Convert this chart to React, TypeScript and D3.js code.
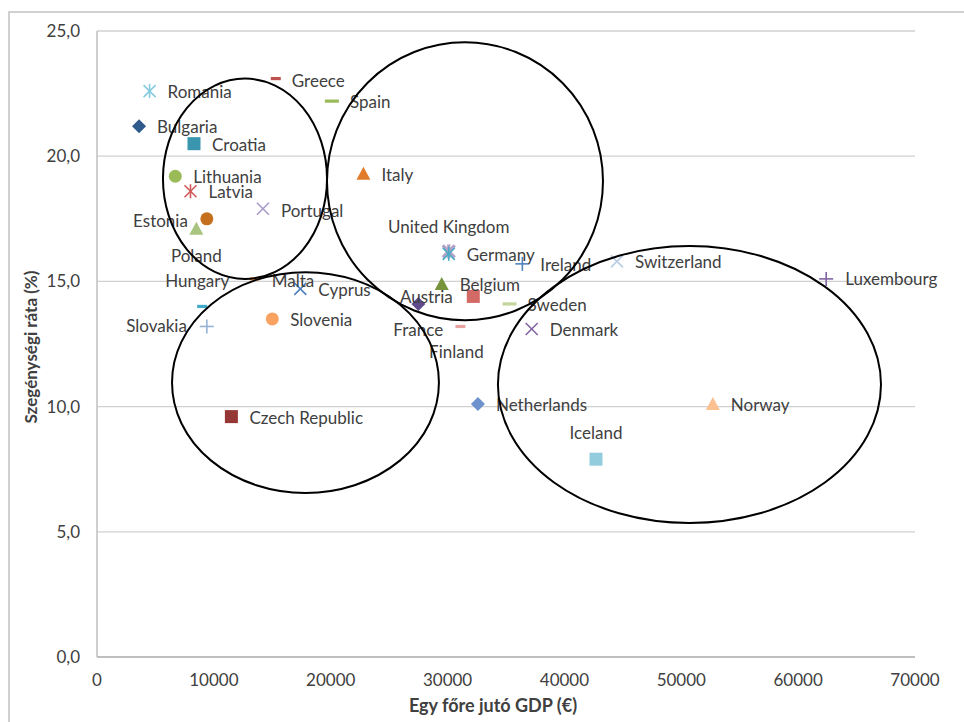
import React, { useEffect, useRef } from 'react';
import * as d3 from 'd3';

// values
const countries = [
  'Romania', 'Greece', 'Spain', 'Bulgaria', 'Croatia', 'Lithuania', 'Italy', 'Latvia',
  'Portugal', 'Estonia', 'Poland', 'United Kingdom', 'Germany', 'Ireland', 'Switzerland',
  'Luxembourg', 'Malta', 'Hungary', 'Cyprus', 'Slovakia', 'Slovenia', 'Czech Republic',
  'Austria', 'Belgium', 'France', 'Sweden', 'Finland', 'Denmark', 'Netherlands', 'Norway', 'Iceland',
];
const gdpPerCapita = [
  4500, 15300, 20100, 3600, 8300, 6700, 22800, 8000,
  14200, 9400, 8500, 30100, 30100, 36400, 44500,
  62400, 13500, 9000, 17400, 9400, 15000, 11500,
  27500, 29500, 32200, 35300, 31100, 37200, 32600, 52700, 42700,
];
const povertyRate = [
  22.6, 23.1, 22.2, 21.2, 20.5, 19.2, 19.3, 18.6,
  17.9, 17.5, 17.1, 16.2, 16.1, 15.7, 15.8,
  15.1, 15.1, 14.0, 14.7, 13.2, 13.5, 9.6,
  14.1, 14.9, 14.4, 14.1, 13.2, 13.1, 10.1, 10.1, 7.9,
];
const xTicks = [0, 10000, 20000, 30000, 40000, 50000, 60000, 70000];
const yTicks = [0, 5, 10, 15, 20, 25];

// hand-drawn groupings, in data units: [cx, cy, rx, ry]
const groupEllipses = [
  [12665, 19.1, 7020, 4.0],
  [31490, 19.0, 11810, 5.55],
  [17840, 10.96, 11420, 4.41],
  [50700, 10.88, 16390, 5.53],
];

type Shape = 'diamond' | 'square' | 'triangle' | 'circle' | 'x' | 'star' | 'plus' | 'dash' | 'longdash';

// marker look per country
const markerStyle: Record<string, [Shape, string]> = {
  Romania: ['star', '#86cbdf'],
  Greece: ['dash', '#c0504d'],
  Spain: ['longdash', '#9bbb59'],
  Bulgaria: ['diamond', '#2f5a8c'],
  Croatia: ['square', '#3a95ae'],
  Lithuania: ['circle', '#9bbb59'],
  Italy: ['triangle', '#e07c2c'],
  Latvia: ['star', '#d05a58'],
  Portugal: ['x', '#a99bc9'],
  Estonia: ['circle', '#c4701f'],
  Poland: ['triangle', '#a9c47f'],
  'United Kingdom': ['star', '#b3a2c7'],
  Germany: ['star', '#4bacc6'],
  Ireland: ['plus', '#4f81bd'],
  Switzerland: ['x', '#b9cde5'],
  Luxembourg: ['plus', '#8064a2'],
  Malta: ['dash', '#f79646'],
  Hungary: ['dash', '#41a9c9'],
  Cyprus: ['x', '#4f81bd'],
  Slovakia: ['plus', '#95b3d7'],
  Slovenia: ['circle', '#f9a261'],
  'Czech Republic': ['square', '#953735'],
  Austria: ['diamond', '#5f4a8b'],
  Belgium: ['triangle', '#77933c'],
  France: ['square', '#d46a66'],
  Sweden: ['longdash', '#c3d69b'],
  Finland: ['dash', '#e8a3a1'],
  Denmark: ['x', '#8064a2'],
  Netherlands: ['diamond', '#6c91cc'],
  Norway: ['triangle', '#fac090'],
  Iceland: ['square', '#93cddd'],
};

// label placement: [text-anchor, dx, dy] in px from the marker
const labelPlacement: Record<string, [string, number, number]> = {
  Greece: ['start', 16, 2],
  Portugal: ['start', 18, 2],
  Malta: ['start', 17, 2],
  Estonia: ['end', -19, 2],
  Poland: ['middle', 0, 27],
  Hungary: ['end', 27, -25],
  Slovakia: ['end', -20, 0],
  'United Kingdom': ['middle', 0, -24],
  Austria: ['middle', 8, -7],
  France: ['middle', -55, 34],
  Finland: ['middle', -4, 26],
  Iceland: ['middle', 0, -26],
  Luxembourg: ['start', 19, 0],
};

const W = 964;
const H = 722;
const FONT = "Lato, 'Open Sans', sans-serif";
const TEXT = '#404040';

const App: React.FC = () => {
  const svgRef = useRef<SVGSVGElement>(null);

  useEffect(() => {
    if (!svgRef.current) return;
    const svg = d3.select(svgRef.current);
    svg.selectAll('*').remove();

    const x = d3.scaleLinear().domain([0, 70000]).range([97, 915]);
    const y = d3.scaleLinear().domain([0, 25]).range([657, 31]);

    // outer chart frame
    svg.append('rect')
      .attr('x', 9).attr('y', 12).attr('width', W + 20).attr('height', H + 20)
      .attr('fill', 'none').attr('stroke', '#d0d0d0').attr('stroke-width', 2);

    // gridlines
    svg.append('g').selectAll('line')
      .data(yTicks)
      .enter()
      .append('line')
      .attr('x1', x(0)).attr('x2', x(70000))
      .attr('y1', d => y(d)).attr('y2', d => y(d))
      .attr('stroke', d => (d === 0 ? '#bfbfbf' : '#d0d0d0'))
      .attr('stroke-width', d => (d === 0 ? 2 : 1.3));

    svg.append('line')
      .attr('x1', x(0)).attr('x2', x(0)).attr('y1', y(0)).attr('y2', y(25))
      .attr('stroke', '#bfbfbf').attr('stroke-width', 1.5);

    // tick labels
    svg.append('g').selectAll('text')
      .data(yTicks)
      .enter()
      .append('text')
      .attr('x', x(0) - 17).attr('y', d => y(d))
      .attr('dy', '0.35em').attr('text-anchor', 'end')
      .attr('font-family', FONT).attr('font-size', 17).attr('fill', TEXT)
      .text(d => d3.format('.1f')(d).replace('.', ','));

    svg.append('g').selectAll('text')
      .data(xTicks)
      .enter()
      .append('text')
      .attr('x', d => x(d)).attr('y', y(0) + 23)
      .attr('dy', '0.35em').attr('text-anchor', 'middle')
      .attr('font-family', FONT).attr('font-size', 17).attr('fill', TEXT)
      .text(d => String(d));

    // axis titles
    svg.append('text')
      .attr('x', 493).attr('y', 706).attr('dy', '0.35em').attr('text-anchor', 'middle')
      .attr('font-family', FONT).attr('font-size', 18).attr('font-weight', 'bold').attr('fill', TEXT)
      .text('Egy főre jutó GDP (€)');
    svg.append('text')
      .attr('transform', 'translate(31,347) rotate(-90)')
      .attr('dy', '0.35em').attr('text-anchor', 'middle')
      .attr('font-family', FONT).attr('font-size', 17).attr('font-weight', 'bold').attr('fill', TEXT)
      .text('Szegénységi ráta (%)');

    // markers
    const pts = countries.map((c, i) => ({ name: c, gx: gdpPerCapita[i], py: povertyRate[i] }));
    const mg = svg.append('g');
    pts.forEach(p => {
      const [shape, color] = markerStyle[p.name];
      const g = mg.append('g').attr('transform', `translate(${x(p.gx)},${y(p.py)})`);
      const line = (x1: number, y1: number, x2: number, y2: number, w = 1.6) =>
        g.append('line').attr('x1', x1).attr('y1', y1).attr('x2', x2).attr('y2', y2)
          .attr('stroke', color).attr('stroke-width', w);
      if (shape === 'diamond') {
        g.append('path').attr('d', 'M0,-7L7,0L0,7L-7,0Z').attr('fill', color);
      } else if (shape === 'square') {
        g.append('rect').attr('x', -6.5).attr('y', -6.5).attr('width', 13).attr('height', 13).attr('fill', color);
      } else if (shape === 'triangle') {
        g.append('path').attr('d', 'M0,-7L7,6L-7,6Z').attr('fill', color);
      } else if (shape === 'circle') {
        g.append('circle').attr('r', 6.5).attr('fill', color);
      } else if (shape === 'x') {
        line(-6, -6, 6, 6); line(-6, 6, 6, -6);
      } else if (shape === 'plus') {
        line(-7, 0, 7, 0); line(0, -7, 0, 7);
      } else if (shape === 'star') {
        const w = p.name === 'United Kingdom' ? 3.2 : 1.6;
        line(-6, -6, 6, 6, w); line(-6, 6, 6, -6, w); line(0, -7, 0, 7, w);
      } else if (shape === 'dash') {
        g.append('rect').attr('x', -5).attr('y', -1.6).attr('width', 10).attr('height', 3.2).attr('fill', color);
      } else {
        g.append('rect').attr('x', -7).attr('y', -1.6).attr('width', 14).attr('height', 3.2).attr('fill', color);
      }
    });

    // data labels
    svg.append('g').selectAll('text')
      .data(pts)
      .enter()
      .append('text')
      .attr('x', d => x(d.gx) + (labelPlacement[d.name] ? labelPlacement[d.name][1] : 18))
      .attr('y', d => y(d.py) + (labelPlacement[d.name] ? labelPlacement[d.name][2] : 1))
      .attr('dy', '0.35em')
      .attr('text-anchor', d => (labelPlacement[d.name] ? labelPlacement[d.name][0] : 'start'))
      .attr('font-family', FONT).attr('font-size', 17).attr('fill', TEXT)
      .text(d => d.name);

    // group ellipses
    svg.append('g').selectAll('ellipse')
      .data(groupEllipses)
      .enter()
      .append('ellipse')
      .attr('cx', d => x(d[0])).attr('cy', d => y(d[1]))
      .attr('rx', d => x(d[2]) - x(0)).attr('ry', d => y(0) - y(d[3]))
      .attr('fill', 'none').attr('stroke', '#000').attr('stroke-width', 2);
  }, []);

  return (
    <svg
      ref={svgRef}
      width={W}
      height={H}
      style={{ position: 'absolute', left: 0, top: 0, background: '#fff' }}
    />
  );
};

export default App;
